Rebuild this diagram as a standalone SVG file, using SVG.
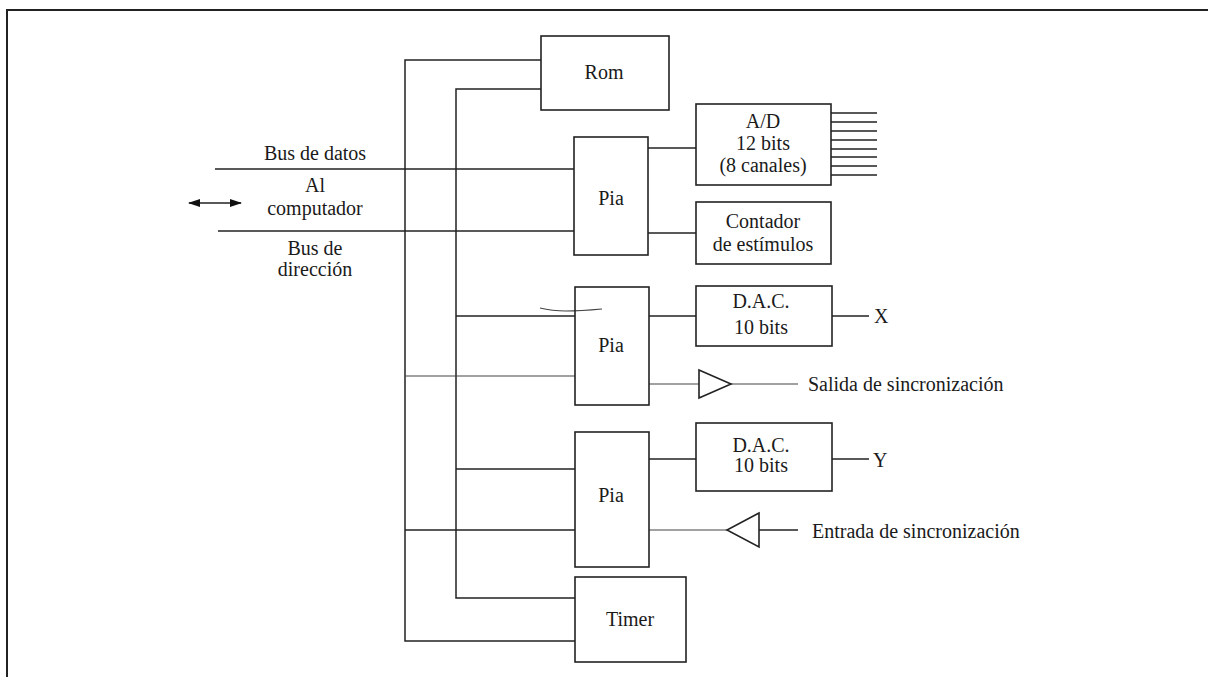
<svg xmlns="http://www.w3.org/2000/svg" width="1208" height="677" viewBox="0 0 1208 677">
<style>
.box{fill:none;stroke:#222;stroke-width:1.6}
.ln{fill:none;stroke:#222;stroke-width:1.5}
.lt{fill:none;stroke:#444;stroke-width:1.2}
text{font-family:"Liberation Serif","Times New Roman",serif;font-size:20px;fill:#1a1a1a}
.c{text-anchor:middle}
</style>
<defs>
<marker id="ah" viewBox="0 0 12 10" refX="11" refY="5" markerWidth="12" markerHeight="10" markerUnits="userSpaceOnUse" orient="auto-start-reverse">
<path d="M0,1 L12,5 L0,9 Z" fill="#111"/>
</marker>
</defs>
<rect width="1208" height="677" fill="#fff"/>
<path d="M7,677 V10 H1208" fill="none" stroke="#222" stroke-width="2"/>

<g id="connectors">
<path class="ln" d="M541,60 H405 V641 H575"/>
<path class="ln" d="M541,89 H456 V598 H575"/>
<path class="ln" d="M215,169 H574"/>
<path class="ln" d="M218,231 H574"/>
<path class="ln" d="M189,203 H241" marker-start="url(#ah)" marker-end="url(#ah)"/>
<path class="ln" d="M648,148 H696"/>
<path class="ln" d="M648,233 H696"/>
<path class="ln" d="M831,113 H877 M831,122 H877 M831,131 H877 M831,140 H877 M831,149 H877 M831,157 H877 M831,166 H877 M831,175 H877"/>
<path class="ln" d="M456,316 H575"/>
<path class="lt" d="M405,376 H575"/>
<path class="lt" d="M540,308 Q552,311 566,311 T602,309"/>
<path class="ln" d="M649,316 H696"/>
<path class="ln" d="M832,316 H869"/>
<path class="lt" d="M649,384 H699"/>
<path class="lt" d="M731,384 H798"/>
<path class="ln" d="M456,469 H575"/>
<path class="ln" d="M405,530 H575"/>
<path class="ln" d="M649,459 H696"/>
<path class="ln" d="M832,459 H869"/>
<path class="lt" d="M649,530 H727"/>
<path class="ln" d="M759,530 H798"/>
</g>

<g id="rom">
<rect class="box" x="541" y="36" width="128" height="74"/>
<text class="c" x="604" y="79">Rom</text>
</g>
<g id="pia1">
<rect class="box" x="574" y="137" width="74" height="118"/>
<text class="c" x="611" y="205">Pia</text>
</g>
<g id="ad">
<rect class="box" x="696" y="104" width="135" height="81"/>
<text class="c" x="763" y="128">A/D</text>
<text class="c" x="763" y="150">12 bits</text>
<text class="c" x="763" y="172">(8 canales)</text>
</g>
<g id="contador">
<rect class="box" x="696" y="202" width="135" height="62"/>
<text class="c" x="763" y="228">Contador</text>
<text class="c" x="763" y="251">de estímulos</text>
</g>
<g id="pia2">
<rect class="box" x="575" y="287" width="74" height="118"/>
<text class="c" x="611" y="352">Pia</text>
</g>
<g id="dacx">
<rect class="box" x="696" y="286" width="136" height="60"/>
<text class="c" x="761" y="308">D.A.C.</text>
<text class="c" x="761" y="334">10 bits</text>
</g>
<g id="x-out">
<text x="874" y="323">X</text>
</g>
<g id="buf-out">
<path class="box" d="M699,370 L731,384 L699,398 Z"/>
<text x="808" y="391">Salida de sincronización</text>
</g>
<g id="pia3">
<rect class="box" x="575" y="432" width="74" height="135"/>
<text class="c" x="611" y="502">Pia</text>
</g>
<g id="dacy">
<rect class="box" x="696" y="423" width="136" height="68"/>
<text class="c" x="761" y="452">D.A.C.</text>
<text class="c" x="761" y="472">10 bits</text>
</g>
<g id="y-out">
<text x="873" y="467">Y</text>
</g>
<g id="buf-in">
<path class="box" d="M759,513 L727,530 L759,547 Z"/>
<text x="812" y="538">Entrada de sincronización</text>
</g>
<g id="timer">
<rect class="box" x="575" y="577" width="111" height="85"/>
<text class="c" x="630" y="626">Timer</text>
</g>
<g id="labels">
<text class="c" x="315" y="160">Bus de datos</text>
<text class="c" x="315" y="192">Al</text>
<text class="c" x="315" y="215">computador</text>
<text class="c" x="315" y="255">Bus de</text>
<text class="c" x="315" y="276">dirección</text>
</g>
</svg>
